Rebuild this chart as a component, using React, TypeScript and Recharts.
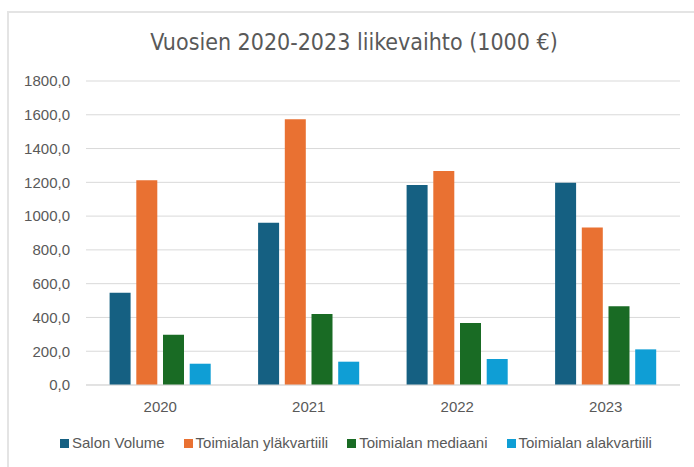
import React from "react";
import { BarChart, Bar, XAxis, YAxis, CartesianGrid } from "recharts";

const years = ["2020", "2021", "2022", "2023"];
const salonVolume = [546, 961, 1184, 1198];
const ylakvartiili = [1212, 1573, 1267, 932];
const mediaani = [298, 420, 367, 466];
const alakvartiili = [126, 138, 154, 211];
const yTicks = [0, 200, 400, 600, 800, 1000, 1200, 1400, 1600, 1800];

const seriesNames = ["Salon Volume", "Toimialan yläkvartiili", "Toimialan mediaani", "Toimialan alakvartiili"];
const seriesKeys = ["salon", "yla", "med", "ala"];
const seriesColors = ["#156082", "#E97132", "#196B24", "#0F9ED5"];

const data = years.map((y, i) => ({
  year: y,
  salon: salonVolume[i],
  yla: ylakvartiili[i],
  med: mediaani[i],
  ala: alakvartiili[i],
}));

const fmt = (v: number) => v.toFixed(1).replace(".", ",");
const FONT = "'Liberation Sans', Arial, sans-serif";

export default function App() {
  return (
    <div style={{ position: "absolute", left: 0, top: 0, width: 694, height: 467, background: "#fff", overflow: "hidden" }}>
      <div style={{ position: "absolute", left: 7, top: 11, width: 720, height: 500, border: "2px solid #e4e4e4", boxSizing: "border-box" }} />
      <div
        style={{
          position: "absolute",
          left: 0,
          width: 708,
          top: 31,
          textAlign: "center",
          fontFamily: "'DejaVu Sans Condensed', sans-serif",
          fontSize: 23,
          lineHeight: "23px",
          color: "#595959",
          whiteSpace: "nowrap",
        }}
      >
        Vuosien 2020-2023 liikevaihto (1000 €)
      </div>
      <div style={{ position: "absolute", left: 0, top: 0 }}>
        <BarChart
          width={694}
          height={467}
          data={data}
          margin={{ top: 81, right: 14, left: 0, bottom: 52 }}
          barCategoryGap={23.6}
          barGap={5.7}
        >
          <CartesianGrid vertical={false} stroke="#d9d9d9" strokeWidth={1} />
          <XAxis
            dataKey="year"
            height={30}
            axisLine={{ stroke: "#d9d9d9" }}
            tickLine={false}
            tickSize={0}
            tickMargin={16}
            tick={{ fill: "#595959", fontSize: 15, fontFamily: FONT }}
          />
          <YAxis
            width={86}
            domain={[0, 1800]}
            ticks={yTicks}
            interval={0}
            axisLine={false}
            tickLine={false}
            tickSize={0}
            tickMargin={16}
            tickFormatter={fmt}
            tick={{ fill: "#595959", fontSize: 15, fontFamily: FONT }}
          />
          {seriesKeys.map((k, i) => (
            <Bar key={k} dataKey={k} name={seriesNames[i]} fill={seriesColors[i]} isAnimationActive={false} />
          ))}
        </BarChart>
      </div>
      <div
        style={{
          position: "absolute",
          left: 60,
          top: 434,
          display: "flex",
          alignItems: "center",
          gap: 19,
          fontFamily: FONT,
          fontSize: 15,
          color: "#595959",
          whiteSpace: "nowrap",
          lineHeight: "18px",
        }}
      >
        {seriesNames.map((n, i) => (
          <div key={n} style={{ display: "flex", alignItems: "center" }}>
            <span style={{ display: "inline-block", width: 9, height: 9, background: seriesColors[i], marginRight: 3 }} />
            <span>{n}</span>
          </div>
        ))}
      </div>
    </div>
  );
}
